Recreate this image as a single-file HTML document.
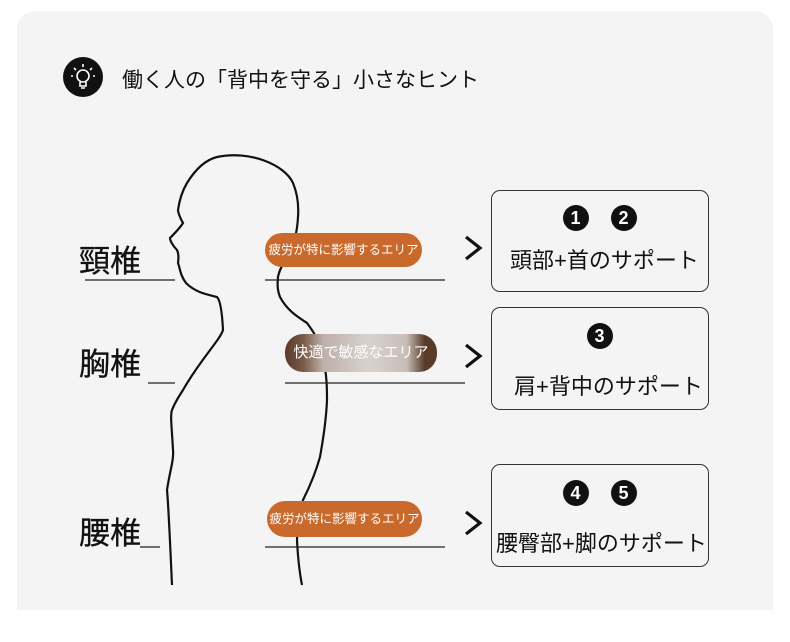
<!DOCTYPE html>
<html><head><meta charset="utf-8"><style>
body{margin:0;width:790px;height:642px;background:#fff;position:relative;overflow:hidden;font-family:"Liberation Sans","Noto Sans CJK JP",sans-serif;color:#111}
.card{position:absolute;left:17px;top:11px;width:756px;height:599px;background:#f4f4f4;border-radius:18px 18px 0 0}
.abs{position:absolute}
.lbl{position:absolute;font-size:31px;line-height:30px;-webkit-text-stroke:0.3px #111}
.pill{position:absolute;border-radius:18px;color:#fff;font-size:12.5px;text-align:center}
.box{position:absolute;left:491px;width:218px;border:1.5px solid #333;border-radius:9px;box-sizing:border-box}
.num{display:inline-block;width:26px;height:26px;border-radius:50%;background:#111;color:#fff;font-size:18px;font-weight:bold;line-height:26px;text-align:center;margin:0 11px}
.bt{position:absolute;font-size:22px;white-space:nowrap}
</style></head><body>
<div class="card"></div>
<div class="abs" style="left:63px;top:57px;width:40px;height:40px;border-radius:50%;background:#111"></div>
<svg class="abs" style="left:63px;top:57px" width="40" height="40"><g stroke="#fff" stroke-width="1.6" fill="none"><circle cx="20" cy="19" r="6"/><path d="M17 25v4h6v-4M18 31h4M20 7v3M11 11l2 2M29 11l-2 2M8 19h2M30 19h2"/></g></svg>
<div class="abs" style="left:122px;top:64px;font-size:21px">働く人の「背中を守る」小さなヒント</div>
<svg class="abs" style="left:0;top:0" width="790" height="642"><g fill="none" stroke="#111" stroke-width="2.2">
<path d="M172 585 C170 540 168 500 167 490 C170 470 174 460 173 450 C172 430 170 415 172 410 C176 400 180 395 183 390 C200 360 220 340 223 330 C222 310 220 300 217 297 C205 294 195 292 186 283 C180 275 180 268 178 263 C179 256 178 252 177 250 C172 245 170 240 170 238 C176 232 180 228 183 223 C180 218 178 212 178 210 C180 196 184 188 187 183 C195 170 205 160 217 157 C250 150 285 165 293 183 C300 200 298 215 298 217 C297 235 293 245 290 250 C285 260 279 270 278 277 C277 287 278 292 280 297 C288 312 300 318 307 323 C316 335 321 345 323 357 C327 375 327 390 327 400 C326 425 322 445 320 457 C315 475 308 490 303 500 C299 515 297 530 297 540 C298 560 300 575 302 585"/>
</g><g stroke="#222" stroke-width="1.3">
<line x1="85" y1="280" x2="175" y2="280"/><line x1="265" y1="280" x2="445" y2="280"/>
<line x1="148" y1="383" x2="175" y2="383"/><line x1="285" y1="383" x2="465" y2="383"/>
<line x1="140" y1="547" x2="160" y2="547"/><line x1="265" y1="547" x2="445" y2="547"/>
</g><g fill="none" stroke="#111" stroke-width="3.2" stroke-linejoin="miter">
<path d="M466 237 L480 248 L466 259"/>
<path d="M466 345 L480 356 L466 367"/>
<path d="M466 512 L480 523 L466 534"/>
</g></svg>
<div class="lbl" style="left:79px;top:247px">頸椎</div>
<div class="lbl" style="left:79px;top:350px">胸椎</div>
<div class="lbl" style="left:79px;top:519px">腰椎</div>
<div class="pill" style="left:265px;top:233px;width:157px;height:34px;line-height:34px;background:#c96a2c">疲労が特に影響するエリア</div>
<div class="pill" style="left:285px;top:334px;width:152px;height:38px;line-height:38px;font-size:15px;background:linear-gradient(90deg,#5a3a28 0,#7a5a48 12%,#bdb0a8 25%,#d8d2ce 55%,#c9beb8 80%,#5a3a28 92%)">快適で敏感なエリア</div>
<div class="pill" style="left:267px;top:501px;width:155px;height:36px;line-height:36px;background:#c96a2c">疲労が特に影響するエリア</div>
<div class="box" style="top:190px;height:102px"></div>
<div class="box" style="top:307px;height:103px"></div>
<div class="box" style="top:464px;height:103px"></div>
<div class="abs" style="left:491px;top:205px;width:217px;text-align:center"><span class="num">1</span><span class="num">2</span></div>
<div class="abs" style="left:491px;top:323px;width:217px;text-align:center"><span class="num">3</span></div>
<div class="abs" style="left:491px;top:480px;width:217px;text-align:center"><span class="num">4</span><span class="num">5</span></div>
<div class="bt" style="left:510px;top:243px">頭部+首のサポート</div>
<div class="bt" style="left:514px;top:369px">肩+背中のサポート</div>
<div class="bt" style="left:496px;top:526px">腰臀部+脚のサポート</div>
</body></html>
